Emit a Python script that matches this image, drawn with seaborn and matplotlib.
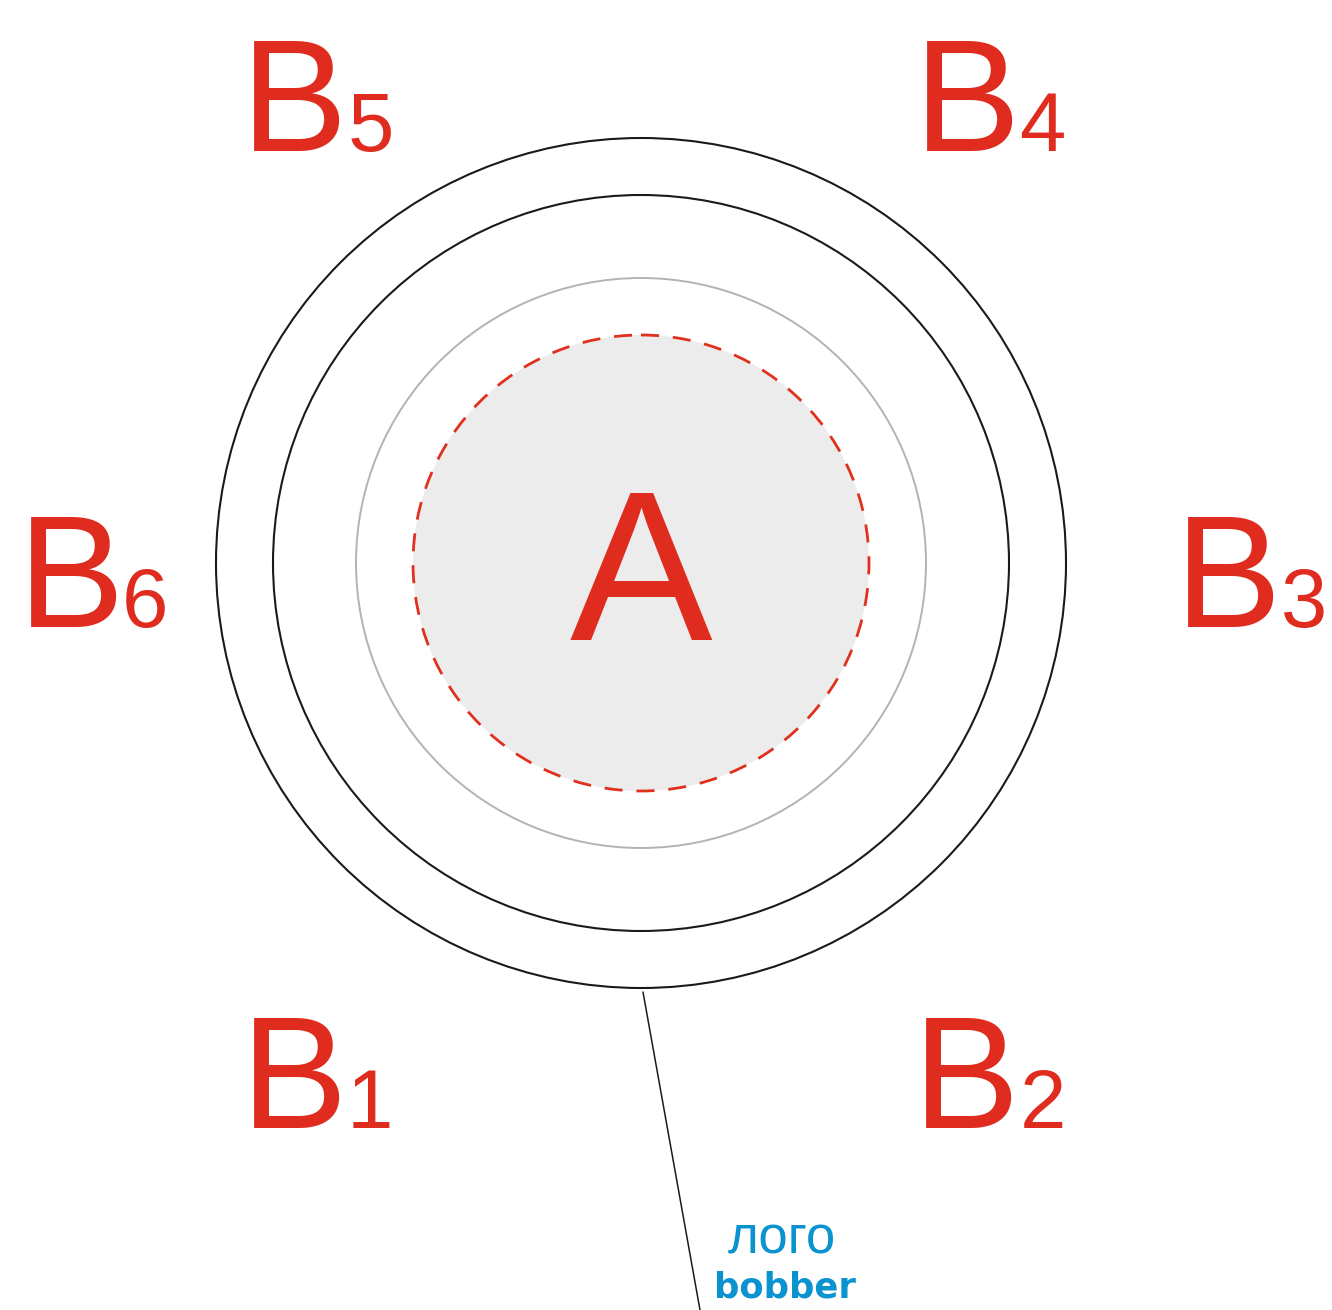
import numpy as np
import matplotlib
matplotlib.use("Agg")
import matplotlib.pyplot as plt
from matplotlib.patches import Circle
import seaborn as sns

# ---- data ----
center = (641, 563)
ring_radii = [425, 368, 285, 228]
ring_colors = ["#1a1a1a", "#1a1a1a", "#b3b3b3", "#e0301e"]
ring_styles = ["-", "-", "-", (0, (6.5, 5))]
ring_widths = [1.5, 1.5, 1.4, 2.0]
inner_fill = "#ececec"

labels_main = ["B", "B", "B", "B", "B", "B"]
labels_sub = ["5", "4", "6", "3", "1", "2"]
label_x = [241, 914, 18, 1175, 241, 913]
sub_x = [348, 1019, 122, 1281, 347, 1020]
label_base = [151, 151, 627, 627, 1128, 1128]

center_label = "A"
logo_top = "лого"
logo_bottom = "bobber"
pointer_x = [643, 700]
pointer_y = [992, 1310]

red = "#df2c1f"
blue = "#0a93cf"

sns.set_theme(style="white")
plt.rcParams["font.family"] = ["Liberation Sans", "DejaVu Sans"]

fig = plt.figure(figsize=(13.32, 13.10), dpi=100)
ax = fig.add_axes([0, 0, 1, 1])
ax.set_xlim(0, 1332)
ax.set_ylim(1310, 0)
ax.set_aspect("equal")
ax.axis("off")

ax.add_patch(Circle(center, ring_radii[-1], facecolor=inner_fill, edgecolor="none", zorder=1))
for r, c, ls, lw in zip(ring_radii, ring_colors, ring_styles, ring_widths):
    ax.add_patch(Circle(center, r, facecolor="none", edgecolor=c, linestyle=ls, linewidth=lw, zorder=2))

sns.lineplot(x=pointer_x, y=pointer_y, ax=ax, color="#1a1a1a", linewidth=1.1, sort=False)

ax.text(center[0], 640, center_label, color=red, fontsize=154, ha="center", va="baseline", zorder=3)

for m, s, x, sx, b in zip(labels_main, labels_sub, label_x, sub_x, label_base):
    ax.text(x, b, m, color=red, fontsize=115, ha="left", va="baseline")
    ax.text(sx, b, s, color=red, fontsize=60, ha="left", va="baseline")

ax.text(782, 1254, logo_top, color=blue, fontsize=38, ha="center", va="baseline")
ax.text(785, 1297, logo_bottom, color=blue, fontsize=25.5, fontweight="bold",
        family=["DejaVu Sans"], ha="center", va="baseline")

fig.savefig("out.png", dpi=100, facecolor="white")
